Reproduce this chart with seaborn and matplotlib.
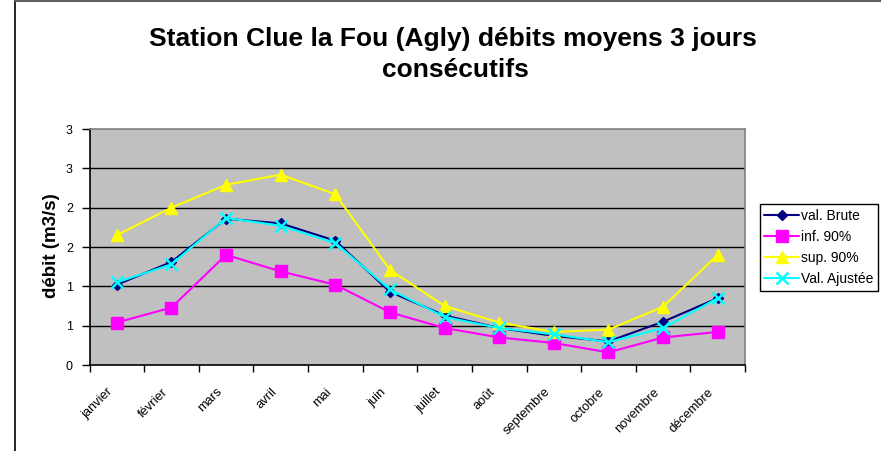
import matplotlib
matplotlib.use("Agg")
import matplotlib.pyplot as plt
import matplotlib.transforms as mtransforms
from matplotlib.lines import Line2D
import numpy as np
import pandas as pd
import seaborn as sns

# Monthly 3-day mean discharge (m3/s) at Clue la Fou on the Agly
mois = ["janvier", "février", "mars", "avril", "mai", "juin", "juillet",
        "août", "septembre", "octobre", "novembre", "décembre"]
val_brute = [1.02, 1.31, 1.86, 1.80, 1.58, 0.93, 0.63, 0.47, 0.37, 0.30, 0.55, 0.85]
inf_90 = [0.54, 0.73, 1.40, 1.19, 1.02, 0.67, 0.47, 0.35, 0.28, 0.16, 0.35, 0.42]
sup_90 = [1.65, 2.00, 2.29, 2.42, 2.17, 1.21, 0.75, 0.54, 0.42, 0.45, 0.74, 1.40]
val_ajustee = [1.05, 1.28, 1.87, 1.77, 1.55, 0.96, 0.61, 0.47, 0.39, 0.29, 0.47, 0.85]

y_ticks = [0, 0.5, 1, 1.5, 2, 2.5, 3]
y_tick_labels = ["0", "1", "1", "2", "2", "3", "3"]

df = pd.DataFrame({
    "mois": pd.Categorical(mois, categories=mois, ordered=True),
    "val. Brute": val_brute,
    "inf. 90%": inf_90,
    "sup. 90%": sup_90,
    "Val. Ajustée": val_ajustee,
})

sns.set_theme(style="white")
plt.rcParams["font.family"] = ["Liberation Sans", "DejaVu Sans"]
plt.rcParams.update({"text.color": "black", "axes.labelcolor": "black",
                     "xtick.color": "black", "ytick.color": "black"})

W, H = 881, 451
fig = plt.figure(figsize=(W / 100, H / 100), dpi=100)
ax = fig.add_axes([89.5 / W, 1 - 365 / H, (745 - 89.5) / W, (365 - 129) / H])
ax.set_facecolor("#C0C0C0")

styles = [
    ("val. Brute", "#000080", "D", 5.5, 1.0),
    ("inf. 90%", "#FF00FF", "s", 8, 1.0),
    ("sup. 90%", "#FFFF00", "^", 9, 1.0),
    ("Val. Ajustée", "#00FFFF", "x", 8, 1.8),
]
for name, color, mk, ms, mew in styles:
    sns.lineplot(data=df, x="mois", y=name, ax=ax, sort=False, color=color,
                 marker=mk, markersize=ms, markeredgewidth=mew,
                 markeredgecolor=color, markerfacecolor=color,
                 linewidth=1.5, label=name)

# Horizontal grid at every half unit
for yv in y_ticks[1:-1]:
    ax.axhline(yv, color="black", linewidth=1.0, zorder=0.5)

ax.set_ylim(0, 3)
ax.set_xlim(-0.5, len(mois) - 0.5)
ax.set_yticks(y_ticks)
ax.set_yticklabels(y_tick_labels, fontsize=9)
ax.set_xticks(np.arange(-0.5, len(mois), 1.0))
ax.set_xticklabels([])
ax.set_xticks(np.arange(len(mois)), minor=True)
ax.tick_params(axis="x", which="major", direction="out", length=5, width=1,
               color="black", bottom=True)
ax.tick_params(axis="x", which="minor", length=0, pad=15, bottom=True)
ax.tick_params(axis="y", direction="out", length=6, width=1, color="black",
               left=True, pad=6)
ax.set_xticklabels(mois, minor=True, rotation=45, ha="right", va="top",
                   rotation_mode="anchor", fontsize=9.3)
# Month labels sit slightly left of their category centre
shift = mtransforms.ScaledTranslation(-10 / 100, 0, fig.dpi_scale_trans)
for tick in ax.xaxis.get_minor_ticks():
    tick.label1.set_transform(tick.label1.get_transform() + shift)
ax.set_xlabel("")
ax.set_ylabel("")

for side, col in [("left", "black"), ("bottom", "black"),
                  ("top", "#808080"), ("right", "#808080")]:
    ax.spines[side].set_visible(True)
    ax.spines[side].set_color(col)
    ax.spines[side].set_linewidth(1.2)

leg = ax.legend(loc="upper left", bbox_to_anchor=(759.5 / W, 1 - 204 / H),
                bbox_transform=fig.transFigure, fontsize=10, frameon=True,
                fancybox=False, edgecolor="black", framealpha=1,
                borderpad=0.35, labelspacing=0.5, handlelength=2.5,
                handletextpad=0.15, borderaxespad=0)
leg.get_frame().set_linewidth(1.0)

fig.text(453 / W, 1 - 39 / H,
         "Station Clue la Fou (Agly) débits moyens 3 jours",
         ha="center", va="center", fontsize=19, fontweight="bold")
fig.text(455 / W, 1 - 70 / H, "consécutifs",
         ha="center", va="center", fontsize=19, fontweight="bold")
fig.text(51 / W, 1 - 246 / H, "débit (m3/s)", rotation=90,
         ha="center", va="center", fontsize=13.5, fontweight="bold")

# Chart frame edges
fig.add_artist(Line2D([14.5 / W, 14.5 / W], [0, 1], color="black",
                      linewidth=1.2, transform=fig.transFigure))
fig.add_artist(Line2D([14.5 / W, 1], [1 - 0.5 / H, 1 - 0.5 / H],
                      color="#606060", linewidth=1.5, transform=fig.transFigure))

fig.savefig("out.png", dpi=100)
